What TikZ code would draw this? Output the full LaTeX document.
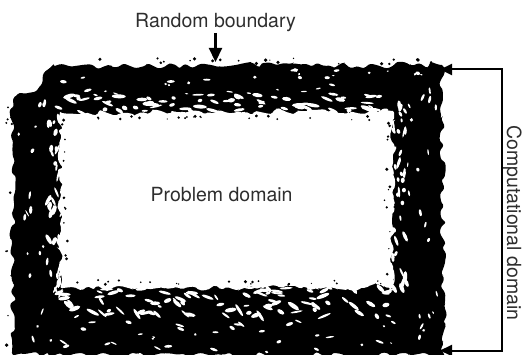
\documentclass[tikz,border=0pt]{standalone}
\usepackage{fontspec}
\setmainfont{TeX Gyre Heros}
\usetikzlibrary{decorations.pathmorphing,arrows.meta}
\begin{document}
\begin{tikzpicture}[x=1pt,y=-1pt,
  lbl/.style={font=\fontsize{19.5}{22}\selectfont, text=black!82, inner sep=0pt},
  conn/.style={line width=2.2pt, -{Triangle[length=14pt,width=13pt]}},
  bracket/.style={line width=2pt, {Triangle[length=12pt,width=11pt]}-{Triangle[length=12pt,width=11pt]}},
  hole/.style={fill=white},
  speck/.style={fill=black},
  raggedout/.style={decorate, decoration={random steps, segment length=6pt, amplitude=3.6pt}, rounded corners=2.5pt},
  raggedin/.style={decorate, decoration={random steps, segment length=5pt, amplitude=3.2pt}, rounded corners=2pt}]
\useasboundingbox (0,0) rectangle (522,355);
\pgfmathsetseed{4242}
% the random frame
\fill[black, raggedout] (52,66) -- (442,65) -- (444,355) -- (13,355) -- (13,100) -- (18,94) -- (34,92) -- (41,85) -- (43,75) -- cycle;
\fill[white, raggedin] (60,113) -- (393,111) -- (392,287) -- (61,288) -- cycle;
% top band: torn zone and body
\foreach \i in {1,...,75}{
  \pgfmathsetmacro\hx{58+336*rnd}
  \pgfmathsetmacro\hy{113-19*rnd}
  \pgfmathsetmacro\rx{2+5*rnd}
  \pgfmathsetmacro\ry{0.9+1.3*rnd}
  \pgfmathsetmacro\ang{-30+50*rnd}
  \fill[hole, rotate around={\ang:(\hx,\hy)}] (\hx,\hy) ellipse [x radius=\rx pt, y radius=\ry pt];
}
\foreach \i in {1,...,30}{
  \pgfmathsetmacro\hx{50+380*rnd}
  \pgfmathsetmacro\hy{70+24*rnd}
  \pgfmathsetmacro\rx{1+3*rnd}
  \pgfmathsetmacro\ry{0.6+1.2*rnd}
  \pgfmathsetmacro\ang{-30+50*rnd}
  \fill[hole, rotate around={\ang:(\hx,\hy)}] (\hx,\hy) ellipse [x radius=\rx pt, y radius=\ry pt];
}
% bottom band: torn zone and body
\foreach \i in {1,...,95}{
  \pgfmathsetmacro\hx{58+336*rnd}
  \pgfmathsetmacro\hy{287+30*rnd}
  \pgfmathsetmacro\rx{2+5*rnd}
  \pgfmathsetmacro\ry{0.9+1.3*rnd}
  \pgfmathsetmacro\ang{-60+90*rnd}
  \fill[hole, rotate around={\ang:(\hx,\hy)}] (\hx,\hy) ellipse [x radius=\rx pt, y radius=\ry pt];
}
\foreach \i in {1,...,35}{
  \pgfmathsetmacro\hx{20+410*rnd}
  \pgfmathsetmacro\hy{320+32*rnd}
  \pgfmathsetmacro\rx{1.2+3.5*rnd}
  \pgfmathsetmacro\ry{0.6+1.2*rnd}
  \pgfmathsetmacro\ang{-40+60*rnd}
  \fill[hole, rotate around={\ang:(\hx,\hy)}] (\hx,\hy) ellipse [x radius=\rx pt, y radius=\ry pt];
}
% left band: torn zone and body
\foreach \i in {1,...,40}{
  \pgfmathsetmacro\hx{62-15*rnd}
  \pgfmathsetmacro\hy{105+190*rnd}
  \pgfmathsetmacro\rx{0.9+1.2*rnd}
  \pgfmathsetmacro\ry{2+4.5*rnd}
  \pgfmathsetmacro\ang{-30+60*rnd}
  \fill[hole, rotate around={\ang:(\hx,\hy)}] (\hx,\hy) ellipse [x radius=\rx pt, y radius=\ry pt];
}
\foreach \i in {1,...,16}{
  \pgfmathsetmacro\hx{17+28*rnd}
  \pgfmathsetmacro\hy{100+240*rnd}
  \pgfmathsetmacro\rx{0.6+1.1*rnd}
  \pgfmathsetmacro\ry{1.2+3*rnd}
  \pgfmathsetmacro\ang{-30+60*rnd}
  \fill[hole, rotate around={\ang:(\hx,\hy)}] (\hx,\hy) ellipse [x radius=\rx pt, y radius=\ry pt];
}
% right band: torn zone and body
\foreach \i in {1,...,45}{
  \pgfmathsetmacro\hx{391+16*rnd}
  \pgfmathsetmacro\hy{105+190*rnd}
  \pgfmathsetmacro\rx{0.9+1.2*rnd}
  \pgfmathsetmacro\ry{2+4.5*rnd}
  \pgfmathsetmacro\ang{-30+60*rnd}
  \fill[hole, rotate around={\ang:(\hx,\hy)}] (\hx,\hy) ellipse [x radius=\rx pt, y radius=\ry pt];
}
\foreach \i in {1,...,20}{
  \pgfmathsetmacro\hx{407+30*rnd}
  \pgfmathsetmacro\hy{75+270*rnd}
  \pgfmathsetmacro\rx{0.6+1.1*rnd}
  \pgfmathsetmacro\ry{1.2+3*rnd}
  \pgfmathsetmacro\ang{-30+60*rnd}
  \fill[hole, rotate around={\ang:(\hx,\hy)}] (\hx,\hy) ellipse [x radius=\rx pt, y radius=\ry pt];
}
% specks outside the outer edge and inside the inner edge
\foreach \i in {1,...,22}{
  \pgfmathsetmacro\hx{50+385*rnd}
  \pgfmathsetmacro\hy{58+6*rnd}
  \pgfmathsetmacro\r{0.7+1.3*rnd}
  \fill[speck] (\hx,\hy) circle [radius=\r pt];
  \pgfmathsetmacro\hx{64+324*rnd}
  \pgfmathsetmacro\hy{115+5*rnd}
  \pgfmathsetmacro\r{0.6+1.1*rnd}
  \fill[speck] (\hx,\hy) circle [radius=\r pt];
  \pgfmathsetmacro\hx{64+324*rnd}
  \pgfmathsetmacro\hy{280+5*rnd}
  \pgfmathsetmacro\r{0.6+1.1*rnd}
  \fill[speck] (\hx,\hy) circle [radius=\r pt];
}
\foreach \i in {1,...,12}{
  \pgfmathsetmacro\hx{6+6*rnd}
  \pgfmathsetmacro\hy{105+245*rnd}
  \pgfmathsetmacro\r{0.7+1.3*rnd}
  \fill[speck] (\hx,\hy) circle [radius=\r pt];
  \pgfmathsetmacro\hx{62+6*rnd}
  \pgfmathsetmacro\hy{118+165*rnd}
  \pgfmathsetmacro\r{0.6+1.1*rnd}
  \fill[speck] (\hx,\hy) circle [radius=\r pt];
  \pgfmathsetmacro\hx{384+6*rnd}
  \pgfmathsetmacro\hy{118+165*rnd}
  \pgfmathsetmacro\r{0.6+1.1*rnd}
  \fill[speck] (\hx,\hy) circle [radius=\r pt];
}
% labels
\node[lbl, anchor=base west] (rb) at (135,27.5) {Random boundary};
\node[lbl, anchor=base west] (pd) at (150.5,202) {Problem domain};
\node[lbl, anchor=base west, rotate=-90] (cd) at (507,125) {Computational domain};
% arrow to the random boundary
\coordinate (rbtail) at (215.5,33);
\coordinate (rbtip) at (215.5,62);
\draw[conn] (rbtail) -- (rbtip);
% bracket for the computational domain
\coordinate (ctop) at (440,69.5);
\coordinate (cbot) at (440,350.5);
\coordinate (bt) at (501.5,69.5);
\coordinate (bb) at (501.5,350.5);
\draw[bracket] (ctop) -- (bt) -- (bb) -- (cbot);
\end{tikzpicture}
\end{document}
